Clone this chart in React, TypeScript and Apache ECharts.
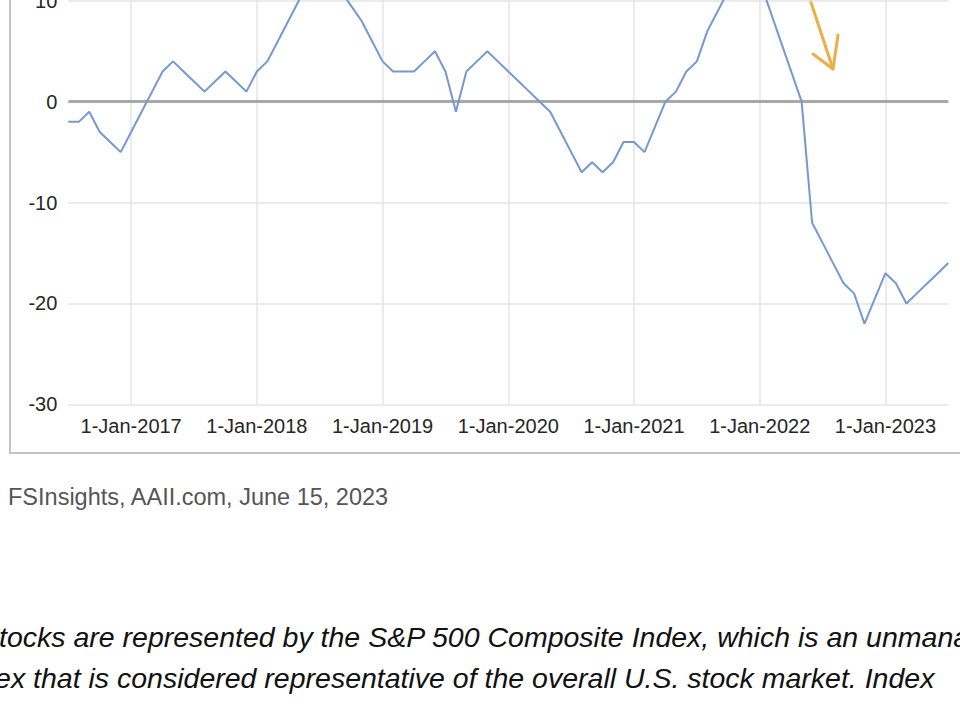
import React, { useEffect, useRef } from "react";
import * as echarts from "echarts";

const categories: string[] = [
  "1-Jul-2016", "1-Aug-2016", "1-Sep-2016", "1-Oct-2016", "1-Nov-2016", "1-Dec-2016",
  "1-Jan-2017", "1-Feb-2017", "1-Mar-2017", "1-Apr-2017", "1-May-2017", "1-Jun-2017",
  "1-Jul-2017", "1-Aug-2017", "1-Sep-2017", "1-Oct-2017", "1-Nov-2017", "1-Dec-2017",
  "1-Jan-2018", "1-Feb-2018", "1-Mar-2018", "1-Apr-2018", "1-May-2018", "1-Jun-2018",
  "1-Jul-2018", "1-Aug-2018", "1-Sep-2018", "1-Oct-2018", "1-Nov-2018", "1-Dec-2018",
  "1-Jan-2019", "1-Feb-2019", "1-Mar-2019", "1-Apr-2019", "1-May-2019", "1-Jun-2019",
  "1-Jul-2019", "1-Aug-2019", "1-Sep-2019", "1-Oct-2019", "1-Nov-2019", "1-Dec-2019",
  "1-Jan-2020", "1-Feb-2020", "1-Mar-2020", "1-Apr-2020", "1-May-2020", "1-Jun-2020",
  "1-Jul-2020", "1-Aug-2020", "1-Sep-2020", "1-Oct-2020", "1-Nov-2020", "1-Dec-2020",
  "1-Jan-2021", "1-Feb-2021", "1-Mar-2021", "1-Apr-2021", "1-May-2021", "1-Jun-2021",
  "1-Jul-2021", "1-Aug-2021", "1-Sep-2021", "1-Oct-2021", "1-Nov-2021", "1-Dec-2021",
  "1-Jan-2022", "1-Feb-2022", "1-Mar-2022", "1-Apr-2022", "1-May-2022", "1-Jun-2022",
  "1-Jul-2022", "1-Aug-2022", "1-Sep-2022", "1-Oct-2022", "1-Nov-2022", "1-Dec-2022",
  "1-Jan-2023", "1-Feb-2023", "1-Mar-2023", "1-Apr-2023", "1-May-2023", "1-Jun-2023",
  "1-Jul-2023",
];

const values: number[] = [
  -2, -2, -1, -3, -4, -5,
  -3, -1, 1, 3, 4, 3,
  2, 1, 2, 3, 2, 1,
  3, 4, 6, 8, 10, 12,
  13, 12.5, 11, 9.5, 8, 6,
  4, 3, 3, 3, 4, 5,
  3, -1, 3, 4, 5, 4,
  3, 2, 1, 0, -1, -3,
  -5, -7, -6, -7, -6, -4,
  -4, -5, -2.5, 0, 1, 3,
  4, 7, 9, 11, 13, 13,
  12, 9, 6, 3, 0, -12,
  -14, -16, -18, -19, -22, -19.5,
  -17, -18, -20, -19, -18, -17,
  -16,
];

const yTicks = { min: -30, max: 30, interval: 10 };

const sourceText = "FSInsights, AAII.com, June 15, 2023";
const noteLine1 = "Stocks are represented by the S&P 500 Composite Index, which is an unmanaged";
const noteLine2 = "index that is considered representative of the overall U.S. stock market. Index";

const OFFSET = 240; // container extends above the visible page

export default function App() {
  const ref = useRef<HTMLDivElement>(null);
  useEffect(() => {
    if (!ref.current) return;
    const chart = echarts.init(ref.current, null, { renderer: "svg" });
    const font = "'Liberation Sans', Arial, Helvetica, sans-serif";
    const isJanIdx = (i: number) => categories[i].indexOf("-Jan-") >= 0;
    const arrowColor = "#EDAE45";
    chart.setOption({
      animation: false,
      backgroundColor: "#ffffff",
      grid: {
        left: 68.3,
        right: 11.7,
        top: 39.1,
        bottom: 300.7,
        containLabel: false,
        outerBoundsMode: "none",
      },
      xAxis: {
        type: "category",
        data: categories,
        boundaryGap: false,
        axisLine: { show: false },
        axisTick: { show: false },
        axisLabel: {
          interval: (i: number) => isJanIdx(i),
          fontSize: 20,
          color: "#262626",
          fontFamily: font,
          margin: 12,
        },
        splitLine: {
          show: true,
          interval: (i: number) => isJanIdx(i),
          lineStyle: { color: "#e4e4e4", width: 1.5 },
        },
      },
      yAxis: {
        type: "value",
        min: yTicks.min,
        max: yTicks.max,
        interval: yTicks.interval,
        axisLine: { show: false },
        axisTick: { show: false },
        axisLabel: {
          fontSize: 20,
          color: "#262626",
          fontFamily: font,
          margin: 11,
        },
        splitLine: { show: true, lineStyle: { color: "#e4e4e4", width: 1.5 } },
      },
      series: [
        {
          type: "line",
          data: values,
          symbol: "none",
          lineStyle: { color: "#7599cf", width: 2 },
          z: 3,
          markLine: {
            silent: true,
            symbol: "none",
            label: { show: false },
            lineStyle: { color: "#a8a8a8", width: 3, type: "solid" },
            data: [{ yAxis: 0 }],
            z: 2,
          },
        },
      ],
      graphic: [
        {
          type: "rect",
          shape: { x: 10, y: 0, width: 980, height: 453 + OFFSET },
          style: { fill: "none", stroke: "#c2c2c2", lineWidth: 2 },
          silent: true,
        },
        {
          type: "line",
          shape: { x1: 797, y1: -40 + OFFSET, x2: 833, y2: 69 + OFFSET },
          style: { stroke: arrowColor, lineWidth: 3, lineCap: "round" },
        },
        {
          type: "polyline",
          shape: {
            points: [
              [813, 54 + OFFSET],
              [833, 69 + OFFSET],
              [838, 35 + OFFSET],
            ],
          },
          style: { stroke: arrowColor, lineWidth: 3, fill: "none", lineCap: "round", lineJoin: "round" },
        },
        {
          type: "text",
          x: 8,
          y: 497 + OFFSET,
          style: {
            text: sourceText,
            fontSize: 23.5,
            fontFamily: font,
            fill: "#555555",
            verticalAlign: "middle",
          },
        },
        {
          type: "text",
          x: -20,
          y: 637 + OFFSET,
          style: {
            text: noteLine1,
            fontSize: 28.5,
            fontStyle: "italic",
            fontFamily: font,
            fill: "#111111",
            verticalAlign: "middle",
          },
        },
        {
          type: "text",
          x: -43,
          y: 678 + OFFSET,
          style: {
            text: noteLine2,
            fontSize: 28.5,
            fontStyle: "italic",
            fontFamily: font,
            fill: "#111111",
            verticalAlign: "middle",
          },
        },
      ],
    });
    return () => chart.dispose();
  }, []);
  return (
    <div
      ref={ref}
      style={{
        position: "fixed",
        left: 0,
        top: -OFFSET,
        width: 960,
        height: 705 + OFFSET,
        background: "#ffffff",
      }}
    />
  );
}
